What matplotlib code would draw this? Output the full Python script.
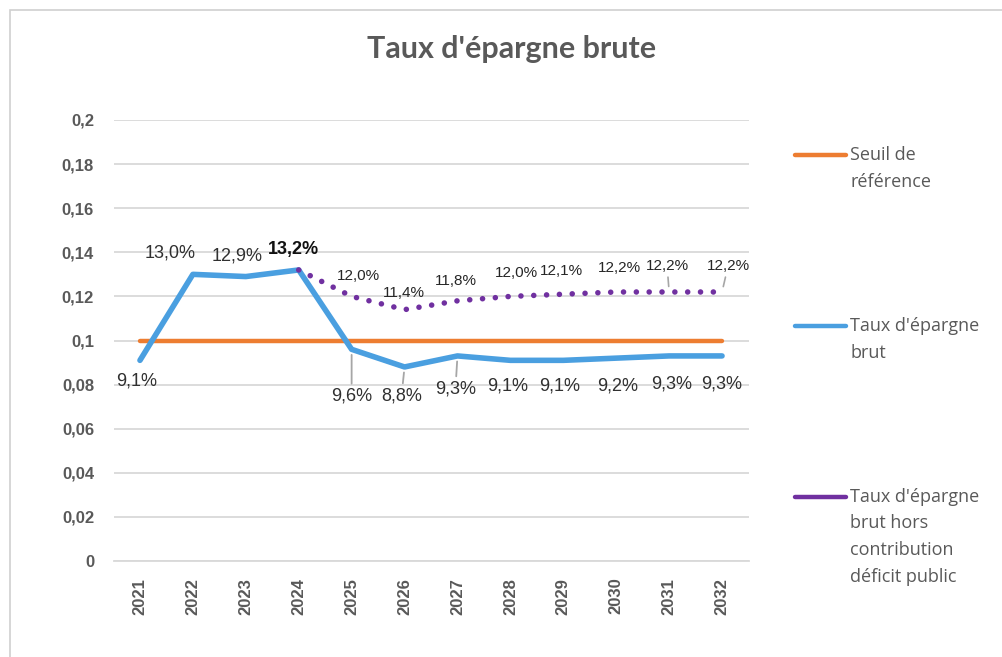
import matplotlib
matplotlib.use("Agg")
import matplotlib.pyplot as plt
from matplotlib.lines import Line2D
from matplotlib.patches import Rectangle

years = ["2021", "2022", "2023", "2024", "2025", "2026", "2027", "2028", "2029", "2030", "2031", "2032"]
seuil = [0.10] * 12
taux_brut = [0.091, 0.130, 0.129, 0.132, 0.096, 0.088, 0.093, 0.091, 0.091, 0.092, 0.093, 0.093]
taux_hors = [None, None, None, 0.132, 0.120, 0.114, 0.118, 0.120, 0.121, 0.122, 0.122, 0.122]
labels_brut = ["9,1%", "13,0%", "12,9%", "13,2%", "9,6%", "8,8%", "9,3%", "9,1%", "9,1%", "9,2%", "9,3%", "9,3%"]
labels_hors = [None, None, None, None, "12,0%", "11,4%", "11,8%", "12,0%", "12,1%", "12,2%", "12,2%", "12,2%"]
yticks = [0, 0.02, 0.04, 0.06, 0.08, 0.1, 0.12, 0.14, 0.16, 0.18, 0.2]
ytick_labels = ["0", "0,02", "0,04", "0,06", "0,08", "0,1", "0,12", "0,14", "0,16", "0,18", "0,2"]
legend_names = [["Seuil de", "référence"],
                ["Taux d'épargne", "brut"],
                ["Taux d'épargne", "brut hors", "contribution", "déficit public"]]
title = "Taux d'épargne brute"

C_ORANGE = "#ED7D31"
C_BLUE = "#4A9FE0"
C_PURPLE = "#7030A0"
C_GRID = "#D9D9D9"
C_TEXT = "#595959"

W, H = 1002, 657
fig = plt.figure(figsize=(W / 100, H / 100), dpi=100)
fig.patch.set_facecolor("white")

# chart frame
fig.patches.append(Rectangle((10 / W, -0.1), 1.2, 1 - 10 / H + 0.1, transform=fig.transFigure,
                             fill=False, edgecolor="#D0D0D0", linewidth=1.2))

ax = fig.add_axes([113.5 / W, 1 - 561 / H, (748.5 - 113.5) / W, (561 - 120) / H])
x = list(range(len(years)))

ax.set_xlim(-0.5, len(years) - 0.5)
ax.set_ylim(0, 0.2)
ax.set_yticks(yticks)
ax.set_yticklabels(ytick_labels)
ax.set_xticks(x)
ax.set_xticklabels(years, rotation=90)
for s in ["top", "right", "left"]:
    ax.spines[s].set_visible(False)
ax.spines["bottom"].set_color(C_GRID)
ax.spines["bottom"].set_linewidth(1.3)
ax.grid(axis="y", color=C_GRID, linewidth=1.3)
ax.set_axisbelow(True)
ax.tick_params(axis="both", length=0, colors=C_TEXT)
ax.tick_params(axis="y", pad=14)
ax.tick_params(axis="x", pad=12)
for lab in ax.get_yticklabels() + ax.get_xticklabels():
    lab.set_fontfamily(["Liberation Sans", "DejaVu Sans"])
    lab.set_fontweight("bold")
    lab.set_fontsize(12)
    lab.set_color(C_TEXT)

ax.plot(x, seuil, color=C_ORANGE, linewidth=3.2, solid_capstyle="round", zorder=3)
ax.plot(x, taux_brut, color=C_BLUE, linewidth=4.0, solid_capstyle="round", solid_joinstyle="round", zorder=4)
xp = [i for i, v in enumerate(taux_hors) if v is not None]
yp = [v for v in taux_hors if v is not None]
ax.plot(xp, yp, color=C_PURPLE, linewidth=4.0, linestyle=(0, (0.01, 2.3)), dash_capstyle="round", zorder=5)

# data labels (offsets in pixels)
brut_off = [(-3, -21), (-23, 21), (-9, 21), (-5, 20), (0, -47), (-3, -29), (-2, -33), (-3, -26),
            (-4, -26), (1, -28), (2, -28), (0, -28)]
brut_leader = [False, False, False, False, True, True, True, False, False, False, False, False]
for i, (lab, v) in enumerate(zip(labels_brut, taux_brut)):
    bold = (i == 3)
    kw = dict(arrowprops=dict(arrowstyle="-", color="#A6A6A6", lw=1.3, shrinkA=1, shrinkB=4)) if brut_leader[i] else {}
    ax.annotate(lab, (i, v), xytext=brut_off[i], textcoords="offset pixels", ha="center", va="center",
                fontsize=13, fontfamily=["Liberation Sans", "DejaVu Sans"],
                fontweight="bold" if bold else "normal",
                color="#111111" if bold else "#303030", zorder=6, **kw)

hors_off = [None, None, None, None, (7, 20), (-1, 17), (-2, 20), (6, 23), (-2, 23), (3, 24), (-2, 26), (6, 26)]
hors_leader = [False] * 10 + [True, True]
for i, lab in enumerate(labels_hors):
    if lab is None:
        continue
    kw = dict(arrowprops=dict(arrowstyle="-", color="#A6A6A6", lw=1.2, shrinkA=1, shrinkB=4)) if hors_leader[i] else {}
    ax.annotate(lab, (i, taux_hors[i]), xytext=hors_off[i], textcoords="offset pixels", ha="center", va="center",
                fontsize=11, fontfamily=["Liberation Sans", "DejaVu Sans"], color="#262626", zorder=6, **kw)

# title
fig.text(512 / W, 1 - 49 / H, title, ha="center", va="center", fontsize=22, fontweight="bold",
         fontfamily=["Lato", "Roboto Condensed", "DejaVu Sans"], color=C_TEXT)

# legend (manual)
leg_colors = [C_ORANGE, C_BLUE, C_PURPLE]
leg_y = [155, 326, 497]
line_step = 26.5
for c, yy, names in zip(leg_colors, leg_y, legend_names):
    fig.lines.append(Line2D([795 / W, 846 / W], [1 - yy / H, 1 - yy / H], transform=fig.transFigure,
                            color=c, linewidth=3.2, solid_capstyle="round"))
    for k, name in enumerate(names):
        fig.text(850 / W, 1 - (yy + k * line_step) / H, name, ha="left", va="center", fontsize=13,
                 fontfamily=["Open Sans", "DejaVu Sans"], color=C_TEXT)

fig.savefig("out.png", dpi=100)
